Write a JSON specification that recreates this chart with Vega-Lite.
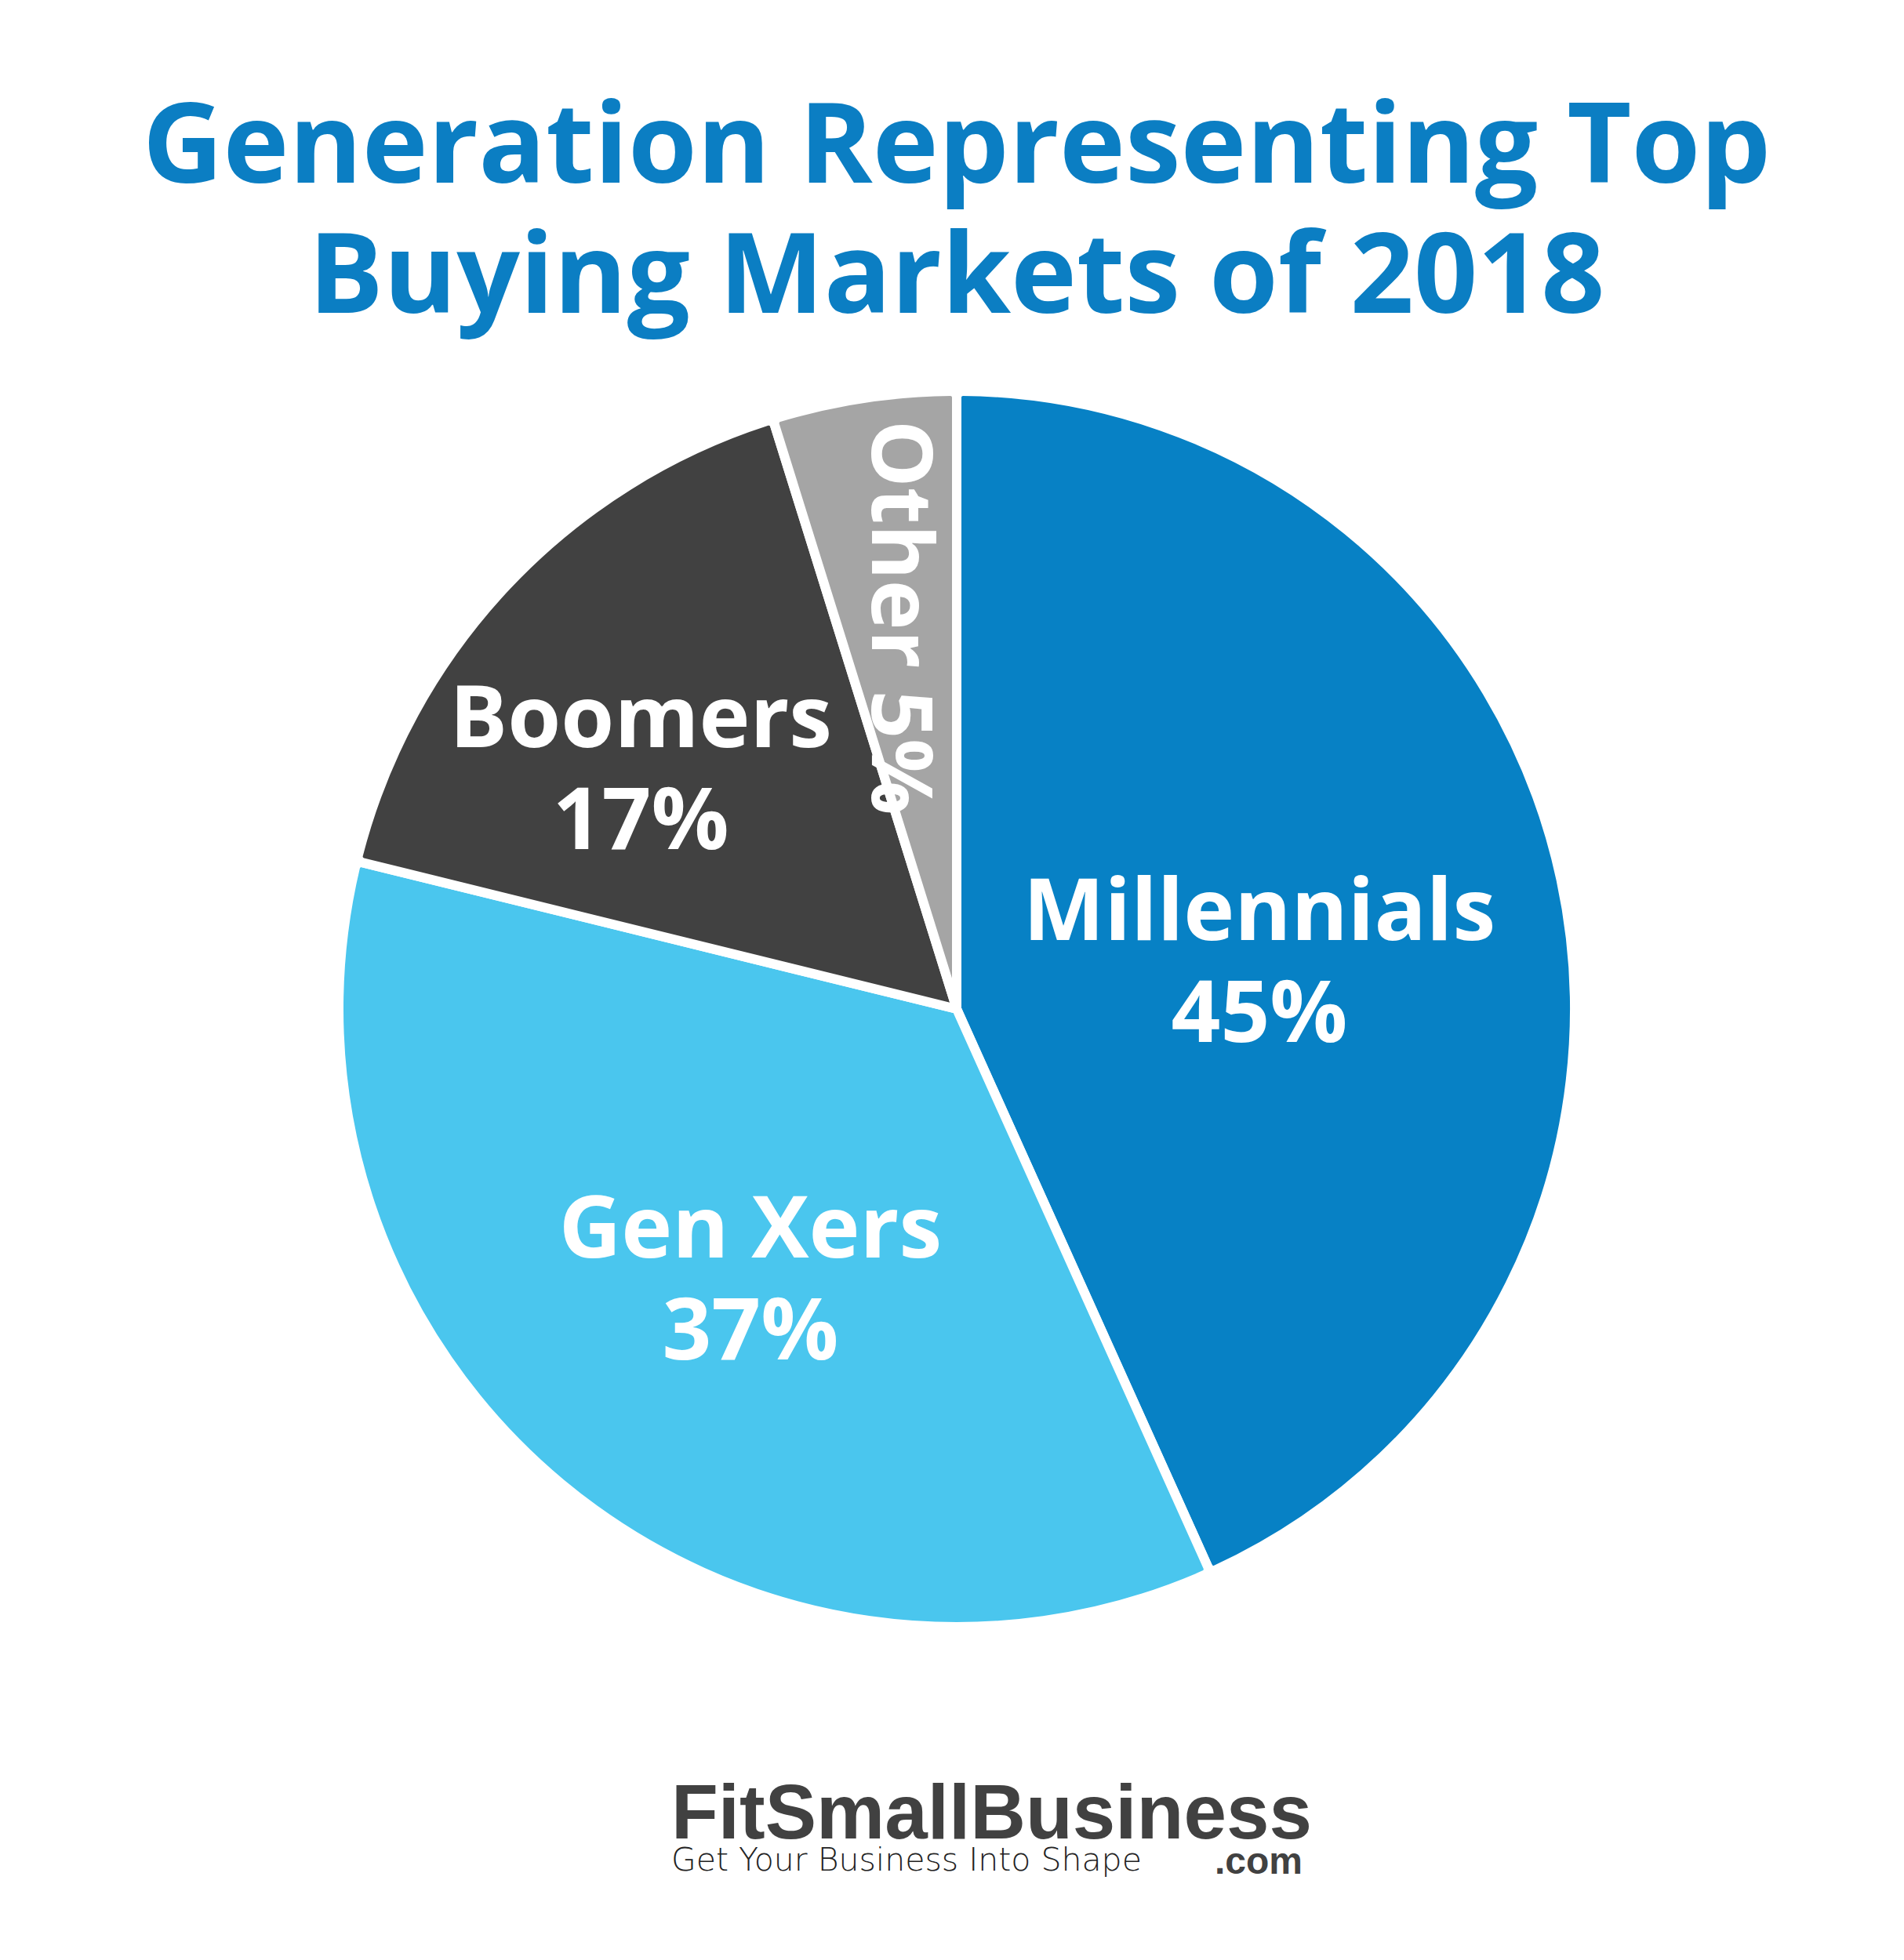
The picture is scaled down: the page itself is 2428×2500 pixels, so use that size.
{
  "$schema": "https://vega.github.io/schema/vega-lite/v6.json",
  "background": "white",
  "padding": {"left": 12, "right": 0, "top": 119, "bottom": 0},
  "spacing": 20,
  "title": {
    "text": ".com",
    "orient": "bottom",
    "anchor": "start",
    "dx": 1537,
    "offset": -42,
    "font": "Liberation Sans",
    "fontSize": 48,
    "fontWeight": "bold",
    "color": "#414141"
  },
  "vconcat": [
    {
      "width": 2416,
      "height": 1600,
      "title": {
        "text": ["Generation Representing Top", "Buying Markets of 2018"],
        "font": "Open Sans",
        "fontSize": 142,
        "fontWeight": "bold",
        "color": "#0B7EC3",
        "lineHeight": 166,
        "anchor": "middle",
        "offset": 46
      },
      "data": {
        "values": [
          {"generation": "Millennials", "share": 45, "order": 1, "label": "Millennials\n45%"},
          {"generation": "Gen Xers", "share": 37, "order": 2, "label": "Gen Xers\n37%"},
          {"generation": "Boomers", "share": 17, "order": 3, "label": "Boomers\n17%"},
          {"generation": "Other", "share": 5, "order": 4, "label": "Other 5%"}
        ]
      },
      "encoding": {
        "theta": {"field": "share", "type": "quantitative", "stack": true},
        "order": {"field": "order", "type": "quantitative"},
        "color": {
          "field": "generation",
          "type": "nominal",
          "scale": {
            "domain": ["Millennials", "Gen Xers", "Boomers", "Other"],
            "range": ["#0781C5", "#4AC6EE", "#414141", "#A5A5A5"]
          },
          "legend": null
        }
      },
      "layer": [
        {"mark": {"type": "arc", "outerRadius": 788, "stroke": "white", "strokeWidth": 12, "cornerRadius": 8}},
        {
          "mark": {"type": "text", "radius": 405, "dx": -10, "dy": -36, "font": "Open Sans", "fontWeight": "bold", "fontSize": 110, "lineBreak": "\n", "lineHeight": 130, "align": "center", "baseline": "middle"},
          "encoding": {
            "text": {"condition": {"test": "datum.generation === 'Millennials'", "field": "label"}, "value": ""},
            "color": {"value": "white"}
          }
        },
        {
          "mark": {"type": "text", "radius": 386, "dx": -16, "dy": -13, "font": "Open Sans", "fontWeight": "bold", "fontSize": 110, "lineBreak": "\n", "lineHeight": 130, "align": "center", "baseline": "middle"},
          "encoding": {
            "text": {"condition": {"test": "datum.generation === 'Gen Xers'", "field": "label"}, "value": ""},
            "color": {"value": "white"}
          }
        },
        {
          "mark": {"type": "text", "radius": 545, "dx": -6, "dy": 7, "font": "Open Sans", "fontWeight": "bold", "fontSize": 110, "lineBreak": "\n", "lineHeight": 130, "align": "center", "baseline": "middle"},
          "encoding": {
            "text": {"condition": {"test": "datum.generation === 'Boomers'", "field": "label"}, "value": ""},
            "color": {"value": "white"}
          }
        },
        {
          "mark": {"type": "text", "radius": 505, "angle": 90, "font": "Open Sans", "fontWeight": "bold", "fontSize": 108, "align": "center", "baseline": "middle"},
          "encoding": {
            "text": {"condition": {"test": "datum.generation === 'Other'", "field": "label"}, "value": ""},
            "color": {"value": "white"}
          }
        }
      ]
    },
    {
      "width": 2416,
      "height": 1,
      "data": {"values": [{"logo": "FitSmallBusiness"}]},
      "mark": {"type": "text", "opacity": 0},
      "encoding": {},
      "title": {
        "text": "FitSmallBusiness",
        "subtitle": "Get Your Business Into Shape",
        "orient": "bottom",
        "anchor": "start",
        "dx": 844,
        "offset": 137,
        "font": "Liberation Sans",
        "fontSize": 98,
        "fontWeight": "bold",
        "color": "#414141",
        "subtitleFont": "DejaVu Sans",
        "subtitleFontSize": 41,
        "subtitleFontWeight": 200,
        "subtitleColor": "#222222",
        "subtitlePadding": -12
      }
    }
  ],
  "config": {"view": {"stroke": null}}
}
